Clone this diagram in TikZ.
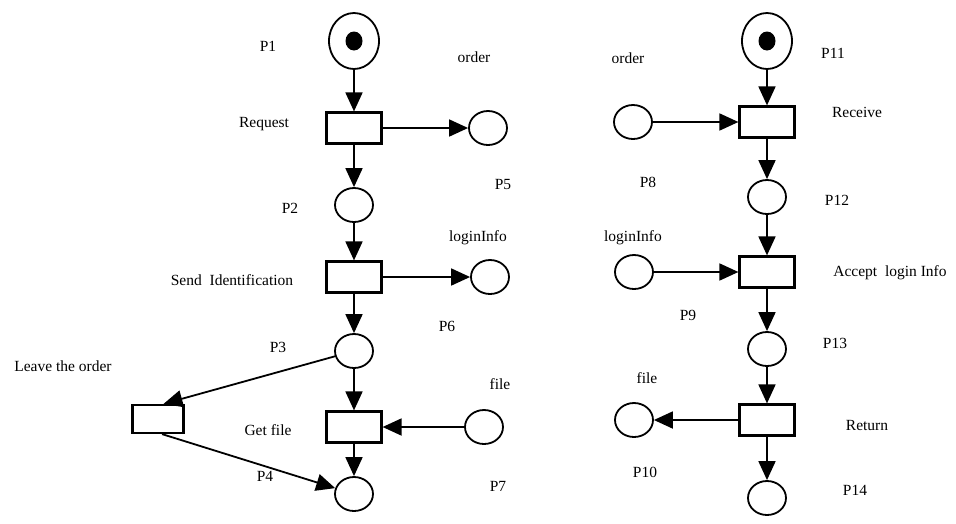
\documentclass[tikz,border=0pt]{standalone}
\usepackage{fontspec}
\setmainfont{Liberation Serif}
\usetikzlibrary{shapes.geometric,arrows.meta}
\begin{document}
\begin{tikzpicture}[x=1pt,y=-1pt,
        place/.style={draw,ellipse,line width=1.8pt,minimum width=38pt,minimum height=34pt,inner sep=0pt},
        bigplace/.style={place,minimum width=50pt,minimum height=56pt},
        trans/.style={draw,rectangle,line width=2.2pt,minimum width=55pt,minimum height=31pt,inner sep=0pt},
        lbl/.style={font=\fontsize{15.5}{18}\selectfont,inner sep=0pt},
        arc/.style={line width=1.8pt,-{Triangle[length=19pt,width=17pt]}}]
    \useasboundingbox (0,0) rectangle (956,523);
    % left net
    \node[bigplace] (p1) at (354,41) {};
    \fill (p1) ellipse (8.5 and 9.5);
    \node[trans] (request) at (354,128) {};
    \node[place] (p5) at (488,128) {};
    \node[place] (p2) at (354,205) {};
    \node[trans] (send) at (354,277) {};
    \node[place] (p6) at (490,277) {};
    \node[place] (p3) at (354,351) {};
    \node[trans,minimum width=51pt,minimum height=28pt] (leave) at (158,419) {};
    \node[trans] (getfile) at (354,427) {};
    \node[place] (p7) at (484,427) {};
    \node[place] (p4) at (354,494) {};
    \node[lbl] (lp1) at (268,46) {P1};
    \node[lbl] (lrequest) at (264,124) {Request};
    \node[lbl] (lorder1) at (474,57) {order};
    \node[lbl] (lp5) at (503,184) {P5};
    \node[lbl] (lp2) at (290,208) {P2};
    \node[lbl] (llogin1) at (478,238) {loginInfo};
    \node[lbl] (lsend) at (232,280) {Send\ \ Identification};
    \node[lbl] (lp6) at (447,326) {P6};
    \node[lbl] (lp3) at (278,347) {P3};
    \node[lbl] (lleave) at (63,366) {Leave the order};
    \node[lbl] (lfile1) at (500,384) {file};
    \node[lbl] (lgetfile) at (268,430) {Get file};
    \node[lbl] (lp7) at (498,486) {P7};
    \node[lbl] (lp4) at (265,476) {P4};
    \draw[arc] (p1) -- (request);
    \draw[arc] (request) -- (p5);
    \draw[arc] (request) -- (p2);
    \draw[arc] (p2) -- (send);
    \draw[arc] (send) -- (p6);
    \draw[arc] (send) -- (p3);
    \draw[arc] (p3) -- (leave.70);
    \draw[arc] (leave.-75) -- (p4);
    \draw[arc] (p3) -- (getfile);
    \draw[arc] (p7) -- (getfile);
    \draw[arc] (getfile) -- (p4);
    % right net
    \node[bigplace] (p11) at (767,41) {};
    \fill (p11) ellipse (8.5 and 9.5);
    \node[trans] (receive) at (767,122) {};
    \node[place] (p8) at (633,122) {};
    \node[place] (p12) at (767,197) {};
    \node[trans] (accept) at (767,272) {};
    \node[place] (p9) at (634,272) {};
    \node[place] (p13) at (767,349) {};
    \node[trans] (ret) at (767,420) {};
    \node[place] (p10) at (634,420) {};
    \node[place] (p14) at (767,498) {};
    \node[lbl] (lp11) at (833,53) {P11};
    \node[lbl] (lorder2) at (628,58) {order};
    \node[lbl] (lreceive) at (857,112) {Receive};
    \node[lbl] (lp8) at (648,182) {P8};
    \node[lbl] (lp12) at (837,200) {P12};
    \node[lbl] (llogin2) at (633,238) {loginInfo};
    \node[lbl] (laccept) at (890,273) {Accept\ \ login Info};
    \node[lbl] (lp9) at (688,315) {P9};
    \node[lbl] (lp13) at (835,343) {P13};
    \node[lbl] (lfile2) at (647,378) {file};
    \node[lbl] (lreturn) at (867,425) {Return};
    \node[lbl] (lp10) at (645,472) {P10};
    \node[lbl] (lp14) at (855,490) {P14};
    \draw[arc] (p11) -- (receive);
    \draw[arc] (p8) -- (receive);
    \draw[arc] (receive) -- (p12);
    \draw[arc] (p12) -- (accept);
    \draw[arc] (p9) -- (accept);
    \draw[arc] (accept) -- (p13);
    \draw[arc] (p13) -- (ret);
    \draw[arc] (ret) -- (p10);
    \draw[arc] (ret) -- (p14);
\end{tikzpicture}
\end{document}
